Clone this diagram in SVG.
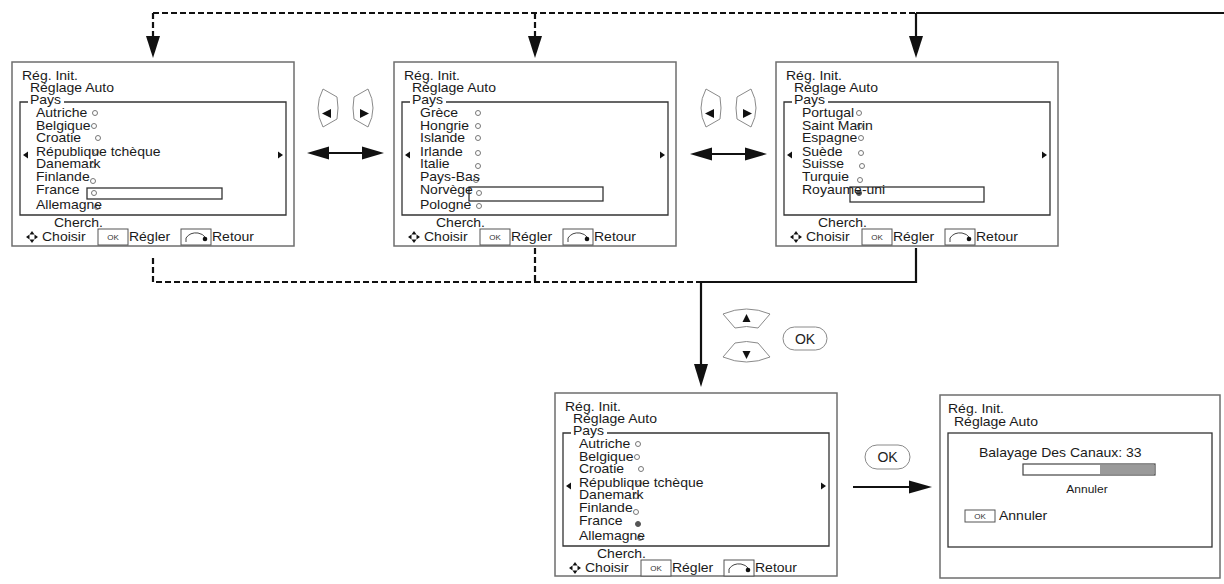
<svg xmlns="http://www.w3.org/2000/svg" width="1224" height="584" viewBox="0 0 1224 584">
<style>
.frame{fill:#fff;stroke:#6e6e6e;stroke-width:1.5}
.inner{fill:none;stroke:#333;stroke-width:1.3}
.t{font-family:"Liberation Sans",Arial,sans-serif;font-size:12.5px;fill:#1a1a1a}
.sm{font-family:"Liberation Sans",Arial,sans-serif;font-size:8px;fill:#333;text-anchor:middle}
.ok{font-family:"Liberation Sans",Arial,sans-serif;font-size:14px;fill:#222;text-anchor:middle}
.dot{fill:#fff;stroke:#777;stroke-width:1}
.sel{fill:#555;stroke:#555;stroke-width:1}
.hl{fill:none;stroke:#333;stroke-width:1.3}
.tri{fill:#111}
.kbox{fill:#fff;stroke:#555;stroke-width:1}
.conn{stroke:#111;stroke-width:2.2;fill:none}
.dash{stroke-dasharray:6 3}
.head{fill:#111}
.btn{fill:#fff;stroke:#8a8a8a;stroke-width:1}
</style>
<defs>
<g id="bottomrow">
<polygon class="tri" points="20,169 17.5,172.5 22.5,172.5"/>
<polygon class="tri" points="20,181 17.5,177.5 22.5,177.5"/>
<polygon class="tri" points="14,175 17.5,172.5 17.5,177.5"/>
<polygon class="tri" points="26,175 22.5,172.5 22.5,177.5"/>
<rect class="kbox" x="86" y="167" width="30" height="16"/>
<text class="sm" x="101" y="178">OK</text>
<rect class="kbox" x="169" y="167" width="30" height="16"/>
<path d="M174,180 V176 Q178,170 186,171 Q191,172 193,175" fill="none" stroke="#444" stroke-width="1"/>
<circle cx="193" cy="177" r="2.3" fill="#111"/>
<polygon class="tri" points="11,93 16,89.5 16,96.5"/>
<polygon class="tri" points="271,93 266,89.5 266,96.5"/>
</g>
</defs>

<g id="connectors">
<path class="conn dash" d="M153,13 H916"/>
<path class="conn" d="M916,13 H1224"/>
<path class="conn dash" d="M153,13 V37"/>
<path class="conn dash" d="M535,13 V37"/>
<path class="conn" d="M916,13 V37"/>
<polygon class="head" points="146,36 160,36 153,58"/>
<polygon class="head" points="528,36 542,36 535,58"/>
<polygon class="head" points="909,36 923,36 916,58"/>
<path class="conn dash" d="M153,258 V282 H701"/>
<path class="conn dash" d="M535,248 V282"/>
<path class="conn" d="M916,248 V282 H701 V365"/>
<polygon class="head" points="694,364 708,364 701,387"/>
<path class="conn" d="M326,153 H365" stroke-width="2.6"/>
<polygon class="head" points="307,153 329,146.5 329,159.5"/>
<polygon class="head" points="384,153 362,146.5 362,159.5"/>
<path class="conn" d="M709,154 H748" stroke-width="2.6"/>
<polygon class="head" points="690,154 712,147.5 712,160.5"/>
<polygon class="head" points="767,154 745,147.5 745,160.5"/>
<path class="conn" d="M853,487 H910"/>
<polygon class="head" points="932,487 909,480.5 909,493.5"/>
</g>

<g id="btn-leftright-1">
<path class="btn" d="M323,89 L337,97 Q339,108 337,119 L323,127 Q313,108 323,89 Z"/>
<path class="btn" d="M368,89 L354,97 Q352,108 354,119 L368,127 Q378,108 368,89 Z"/>
<polygon class="tri" points="322,113.5 331,109 331,118"/>
<polygon class="tri" points="369,113.5 360,109 360,118"/>
</g>
<g id="btn-leftright-2">
<path class="btn" d="M706,89 L720,97 Q722,108 720,119 L706,127 Q696,108 706,89 Z"/>
<path class="btn" d="M751,89 L737,97 Q735,108 737,119 L751,127 Q761,108 751,89 Z"/>
<polygon class="tri" points="705,113.5 714,109 714,118"/>
<polygon class="tri" points="752,113.5 743,109 743,118"/>
</g>
<g id="btn-updown-ok">
<path class="btn" d="M723,314 Q746.5,304 770,314 L758,328 Q746.5,325 735,328 Z"/>
<path class="btn" d="M735,343 Q746.5,340 758,343 L770,357 Q746.5,367 723,357 Z"/>
<polygon class="tri" points="746.5,314 742.5,322 750.5,322"/>
<polygon class="tri" points="746.5,359 742.5,351 750.5,351"/>
<rect class="btn" x="783" y="327" width="44" height="23" rx="11.5"/>
<text class="ok" x="805" y="343.5">OK</text>
</g>
<g id="btn-ok-2">
<rect class="btn" x="865" y="445" width="45" height="24" rx="12"/>
<text class="ok" x="887.5" y="462">OK</text>
</g>

<g id="screen-1" transform="translate(12,62)">
<rect class="frame" x="0" y="0" width="282" height="184"/>
<path class="inner" d="M16,40 H8 V153 H274 V40 H52"/>
<rect class="hl" x="75" y="126" width="135" height="11"/>
<circle class="dot" cx="83" cy="51" r="2.5"/>
<circle class="dot" cx="82" cy="64" r="2.5"/>
<circle class="dot" cx="86" cy="76" r="2.5"/>
<circle class="dot" cx="84" cy="90" r="2.5"/>
<circle class="dot" cx="81" cy="103" r="2.5"/>
<circle class="dot" cx="81" cy="119" r="2.5"/>
<circle class="dot" cx="82" cy="131" r="2.5"/>
<circle class="dot" cx="85" cy="145" r="2.5"/>
<use href="#bottomrow"/>
<g transform="scale(1.12,1)">
<text class="t" x="8.93" y="18">Rég. Init.</text>
<text class="t" x="16.07" y="30">Réglage Auto</text>
<text class="t" x="16.07" y="42">Pays</text>
<text class="t" x="21.43" y="55">Autriche</text>
<text class="t" x="21.43" y="68">Belgique</text>
<text class="t" x="21.43" y="80">Croatie</text>
<text class="t" x="21.43" y="94">République tchèque</text>
<text class="t" x="21.43" y="106">Danemark</text>
<text class="t" x="21.43" y="119">Finlande</text>
<text class="t" x="21.43" y="132">France</text>
<text class="t" x="21.43" y="147">Allemagne</text>
<text class="t" x="37.5" y="165">Cherch.</text>
<text class="t" x="26.79" y="179">Choisir</text>
<text class="t" x="104.46" y="179">Régler</text>
<text class="t" x="178.57" y="179">Retour</text>
</g>
</g>

<g id="screen-2" transform="translate(394,62)">
<rect class="frame" x="0" y="0" width="282" height="184"/>
<path class="inner" d="M16,40 H8 V153 H274 V40 H52"/>
<rect class="hl" x="75" y="125" width="134" height="14"/>
<circle class="dot" cx="84" cy="51" r="2.5"/>
<circle class="dot" cx="84" cy="64" r="2.5"/>
<circle class="dot" cx="84" cy="76" r="2.5"/>
<circle class="dot" cx="84" cy="91" r="2.5"/>
<circle class="dot" cx="84" cy="104" r="2.5"/>
<circle class="dot" cx="82" cy="118" r="2.5"/>
<circle class="dot" cx="85" cy="131" r="2.5"/>
<circle class="dot" cx="85" cy="144" r="2.5"/>
<use href="#bottomrow"/>
<g transform="scale(1.12,1)">
<text class="t" x="8.93" y="18">Rég. Init.</text>
<text class="t" x="16.07" y="30">Réglage Auto</text>
<text class="t" x="16.07" y="42">Pays</text>
<text class="t" x="23.21" y="55">Grèce</text>
<text class="t" x="23.21" y="68">Hongrie</text>
<text class="t" x="23.21" y="80">Islande</text>
<text class="t" x="23.21" y="94">Irlande</text>
<text class="t" x="23.21" y="106">Italie</text>
<text class="t" x="23.21" y="119">Pays-Bas</text>
<text class="t" x="23.21" y="132">Norvège</text>
<text class="t" x="23.21" y="147">Pologne</text>
<text class="t" x="37.5" y="165">Cherch.</text>
<text class="t" x="26.79" y="179">Choisir</text>
<text class="t" x="104.46" y="179">Régler</text>
<text class="t" x="178.57" y="179">Retour</text>
</g>
</g>

<g id="screen-3" transform="translate(776,62)">
<rect class="frame" x="0" y="0" width="282" height="184"/>
<path class="inner" d="M16,40 H8 V153 H274 V40 H52"/>
<rect class="hl" x="74" y="125" width="134" height="15"/>
<circle class="dot" cx="83" cy="51" r="2.5"/>
<circle class="dot" cx="84" cy="64" r="2.5"/>
<circle class="dot" cx="85" cy="76" r="2.5"/>
<circle class="dot" cx="85" cy="91" r="2.5"/>
<circle class="dot" cx="86" cy="104" r="2.5"/>
<circle class="dot" cx="84" cy="118" r="2.5"/>
<circle class="sel" cx="83" cy="131" r="2.5"/>
<use href="#bottomrow"/>
<g transform="scale(1.12,1)">
<text class="t" x="8.93" y="18">Rég. Init.</text>
<text class="t" x="16.07" y="30">Réglage Auto</text>
<text class="t" x="16.07" y="42">Pays</text>
<text class="t" x="23.21" y="55">Portugal</text>
<text class="t" x="23.21" y="68">Saint Marin</text>
<text class="t" x="23.21" y="80">Espagne</text>
<text class="t" x="23.21" y="94">Suède</text>
<text class="t" x="23.21" y="106">Suisse</text>
<text class="t" x="23.21" y="119">Turquie</text>
<text class="t" x="23.21" y="132">Royaume-uni</text>
<text class="t" x="37.5" y="165">Cherch.</text>
<text class="t" x="26.79" y="179">Choisir</text>
<text class="t" x="104.46" y="179">Régler</text>
<text class="t" x="178.57" y="179">Retour</text>
</g>
</g>

<g id="screen-4" transform="translate(555,393)">
<rect class="frame" x="0" y="0" width="282" height="183"/>
<path class="inner" d="M16,40 H8 V153 H274 V40 H52"/>
<circle class="dot" cx="83" cy="51" r="2.5"/>
<circle class="dot" cx="82" cy="64" r="2.5"/>
<circle class="dot" cx="86" cy="76" r="2.5"/>
<circle class="dot" cx="84" cy="90" r="2.5"/>
<circle class="dot" cx="81" cy="103" r="2.5"/>
<circle class="dot" cx="81" cy="119" r="2.5"/>
<circle class="sel" cx="83" cy="131" r="2.5"/>
<circle class="dot" cx="85" cy="145" r="2.5"/>
<use href="#bottomrow"/>
<g transform="scale(1.12,1)">
<text class="t" x="8.93" y="18">Rég. Init.</text>
<text class="t" x="16.07" y="30">Réglage Auto</text>
<text class="t" x="16.07" y="42">Pays</text>
<text class="t" x="21.43" y="55">Autriche</text>
<text class="t" x="21.43" y="68">Belgique</text>
<text class="t" x="21.43" y="80">Croatie</text>
<text class="t" x="21.43" y="94">République tchèque</text>
<text class="t" x="21.43" y="106">Danemark</text>
<text class="t" x="21.43" y="119">Finlande</text>
<text class="t" x="21.43" y="132">France</text>
<text class="t" x="21.43" y="147">Allemagne</text>
<text class="t" x="37.5" y="165">Cherch.</text>
<text class="t" x="26.79" y="179">Choisir</text>
<text class="t" x="104.46" y="179">Régler</text>
<text class="t" x="178.57" y="179">Retour</text>
</g>
</g>

<g id="screen-5" transform="translate(940,395)">
<rect class="frame" x="0" y="0" width="280" height="183"/>
<rect class="inner" x="8" y="38" width="264" height="114"/>
<rect x="83" y="69" width="132" height="11" fill="#fff" stroke="#444" stroke-width="1.2"/>
<rect x="160" y="70" width="54" height="9" fill="#9a9a9a"/>
<rect class="kbox" x="25" y="115" width="30" height="12"/>
<text class="sm" x="40" y="124">OK</text>
<g transform="scale(1.12,1)">
<text class="t" x="7.14" y="18">Rég. Init.</text>
<text class="t" x="12.5" y="31">Réglage Auto</text>
<text class="t" x="34.82" y="62">Balayage Des Canaux: 33</text>
<text class="t" x="131.25" y="98" style="font-size:10.7px;text-anchor:middle">Annuler</text>
<text class="t" x="52.68" y="125">Annuler</text>
</g>
</g>
</svg>
